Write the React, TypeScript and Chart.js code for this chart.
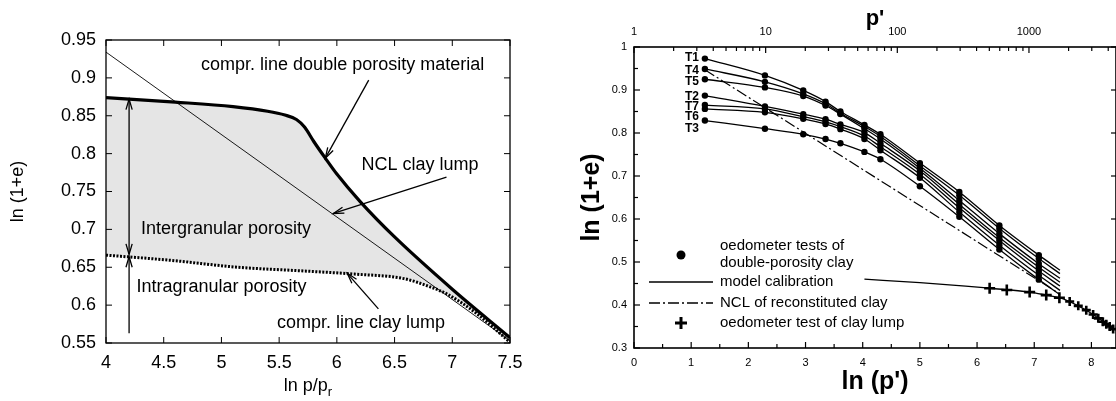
import React, { useEffect, useRef } from 'react';
import { Chart, registerables } from 'chart.js';

Chart.register(...registerables);

const SANS = '"Liberation Sans", Arial, Helvetica, sans-serif';

// ---------------- Left panel data ----------------
const leftXMin = 4;
const leftXMax = 7.5;
const leftYMin = 0.55;
const leftYMax = 0.95;

const nclLumpX = [4.0, 7.5];
const nclLumpY = [0.934, 0.553];

const doublePorX = [4.0, 4.6, 5.1, 5.4, 5.55, 5.65, 5.72, 5.8, 5.9, 6.0, 6.2, 6.5, 7.0, 7.5];
const doublePorY = [0.874, 0.868, 0.862, 0.856, 0.851, 0.845, 0.835, 0.816, 0.794, 0.773, 0.737, 0.69, 0.621, 0.557];

const lumpComprX = [4.0, 4.57, 5.14, 5.72, 6.15, 6.58, 6.81, 6.95, 7.21, 7.5];
const lumpComprY = [0.666, 0.659, 0.65, 0.645, 0.641, 0.635, 0.624, 0.615, 0.589, 0.551];

const leftTexts = [
  'compr. line double porosity material',
  'NCL clay lump',
  'Intergranular porosity',
  'Intragranular porosity',
  'compr. line clay lump',
];

// ---------------- Right panel data ----------------
const rightXMax = 8.43;
const lnP = [1.24, 2.29, 2.96, 3.35, 3.61, 4.03, 4.31, 5.0, 5.69, 6.39, 7.08];
const modelEndLnP = 7.45;

const testNames = ['T1', 'T4', 'T5', 'T2', 'T7', 'T6', 'T3'];
const T1 = [0.973, 0.934, 0.899, 0.873, 0.85, 0.819, 0.797, 0.73, 0.663, 0.585, 0.516];
const T4 = [0.949, 0.919, 0.891, 0.868, 0.846, 0.815, 0.792, 0.724, 0.655, 0.578, 0.508];
const T5 = [0.925, 0.906, 0.886, 0.864, 0.844, 0.81, 0.786, 0.718, 0.643, 0.566, 0.496];
const T2 = [0.887, 0.862, 0.844, 0.832, 0.82, 0.801, 0.776, 0.712, 0.634, 0.557, 0.488];
const T7 = [0.865, 0.856, 0.838, 0.826, 0.815, 0.793, 0.768, 0.704, 0.626, 0.55, 0.479];
const T6 = [0.856, 0.848, 0.833, 0.821, 0.809, 0.786, 0.76, 0.696, 0.616, 0.539, 0.469];
const T3 = [0.829, 0.81, 0.797, 0.786, 0.776, 0.756, 0.739, 0.676, 0.605, 0.529, 0.459];
const testSeries = [T1, T4, T5, T2, T7, T6, T3];
const modelEndValues = [0.481, 0.473, 0.462, 0.453, 0.444, 0.434, 0.424];
const testLabelY = [0.976, 0.945, 0.919, 0.884, 0.861, 0.837, 0.811];

const nclReconX = [1.24, 7.42];
const nclReconY = [0.947, 0.428];

const lumpModelX = [4.03, 5.0, 5.8, 6.22, 6.92, 7.21, 7.44, 7.77, 8.03, 8.38];
const lumpModelY = [0.46, 0.452, 0.444, 0.439, 0.43, 0.423, 0.417, 0.398, 0.378, 0.344];

const lumpTestX = [6.22, 6.52, 6.92, 7.21, 7.44, 7.62, 7.77, 7.91, 8.03, 8.12, 8.2, 8.26, 8.32, 8.38];
const lumpTestY = [0.439, 0.435, 0.43, 0.423, 0.417, 0.408, 0.398, 0.388, 0.378, 0.369, 0.361, 0.355, 0.35, 0.344];

const legendTexts = [
  ['oedometer tests of', 'double-porosity clay'],
  ['model calibration'],
  ['NCL of reconstituted clay'],
  ['oedometer test of clay lump'],
];
const topTickLabels = [1, 10, 100, 1000];

const zip = (xs: number[], ys: number[]) => xs.map((x, i) => ({ x, y: ys[i] }));

function seg(ctx: CanvasRenderingContext2D, x1: number, y1: number, x2: number, y2: number) {
  ctx.beginPath();
  ctx.moveTo(x1, y1);
  ctx.lineTo(x2, y2);
  ctx.stroke();
}

function arrowHead(ctx: CanvasRenderingContext2D, x1: number, y1: number, x2: number, y2: number, len = 11, ang = Math.PI / 11) {
  const a = Math.atan2(y2 - y1, x2 - x1);
  ctx.beginPath();
  ctx.moveTo(x2 - len * Math.cos(a - ang), y2 - len * Math.sin(a - ang));
  ctx.lineTo(x2, y2);
  ctx.lineTo(x2 - len * Math.cos(a + ang), y2 - len * Math.sin(a + ang));
  ctx.stroke();
}

const leftDecor = {
  id: 'leftDecor',
  afterDatasetsDraw(chart: any) {
    const { ctx, chartArea: ca, scales } = chart;
    const x = scales.x;
    const y = scales.y;
    const px = (v: number) => x.getPixelForValue(v);
    const py = (v: number) => y.getPixelForValue(v);
    ctx.save();
    ctx.strokeStyle = '#000';
    ctx.fillStyle = '#000';
    ctx.lineWidth = 1.3;
    ctx.strokeRect(ca.left, ca.top, ca.right - ca.left, ca.bottom - ca.top);
    ctx.lineWidth = 1;
    x.ticks.forEach((t: any) => {
      const p = px(t.value);
      seg(ctx, p, ca.bottom, p, ca.bottom - 6);
      seg(ctx, p, ca.top, p, ca.top + 6);
    });
    y.ticks.forEach((t: any) => {
      const p = py(t.value);
      seg(ctx, ca.left, p, ca.left + 6, p);
      seg(ctx, ca.right, p, ca.right - 6, p);
    });

    // arrows
    ctx.lineWidth = 1.3;
    const arrows = [
      [6.276, 0.897, 5.9, 0.794],
      [6.95, 0.769, 5.97, 0.721],
      [6.36, 0.595, 6.09, 0.642],
      [4.2, 0.563, 4.2, 0.664],
    ];
    arrows.forEach(([a, b, c, d]) => {
      seg(ctx, px(a), py(b), px(c), py(d));
      arrowHead(ctx, px(a), py(b), px(c), py(d));
    });
    const dx = px(4.2);
    seg(ctx, dx, py(0.667), dx, py(0.872));
    arrowHead(ctx, dx, py(0.872), dx, py(0.667));
    arrowHead(ctx, dx, py(0.667), dx, py(0.872));

    // texts
    ctx.font = `18px ${SANS}`;
    ctx.textAlign = 'center';
    ctx.textBaseline = 'middle';
    const pos = [
      [6.05, 0.917],
      [6.72, 0.785],
      [5.04, 0.7],
      [5.0, 0.624],
      [6.21, 0.576],
    ];
    leftTexts.forEach((t, i) => ctx.fillText(t, px(pos[i][0]), py(pos[i][1])));

    // x title with subscript
    const main = 'ln p/p';
    ctx.font = `18px ${SANS}`;
    const w1 = ctx.measureText(main).width;
    ctx.font = `13px ${SANS}`;
    const w2 = ctx.measureText('r').width;
    const cx = (ca.left + ca.right) / 2;
    const sx = cx - (w1 + w2) / 2;
    ctx.textAlign = 'left';
    ctx.textBaseline = 'alphabetic';
    ctx.font = `18px ${SANS}`;
    ctx.fillText(main, sx, 391);
    ctx.font = `13px ${SANS}`;
    ctx.fillText('r', sx + w1, 396);
    ctx.restore();
  },
};

const rightDecor = {
  id: 'rightDecor',
  afterDatasetsDraw(chart: any) {
    const { ctx, chartArea: ca, scales } = chart;
    const x = scales.x;
    const y = scales.y;
    const px = (v: number) => x.getPixelForValue(v);
    const py = (v: number) => y.getPixelForValue(v);
    ctx.save();
    ctx.strokeStyle = '#000';
    ctx.fillStyle = '#000';
    ctx.lineWidth = 1.6;
    ctx.strokeRect(ca.left, ca.top, ca.right - ca.left, ca.bottom - ca.top);
    ctx.lineWidth = 1.2;
    for (let v = 0; v <= rightXMax + 1e-9; v += 0.5) {
      const p = px(v);
      const major = Math.abs(v - Math.round(v)) < 1e-9;
      seg(ctx, p, ca.bottom, p, ca.bottom - (major ? 6 : 4));
    }
    for (let v = 0.3; v <= 1.0001; v += 0.05) {
      const p = py(v);
      const major = Math.abs(v * 10 - Math.round(v * 10)) < 1e-6;
      seg(ctx, ca.left, p, ca.left + (major ? 6 : 4), p);
      if (major) seg(ctx, ca.right, p, ca.right - 5, p);
    }
    for (let dec = 1; dec <= 1000; dec *= 10) {
      for (let m = 1; m <= 9; m++) {
        const v = Math.log(dec * m);
        if (v > rightXMax) continue;
        const p = px(v);
        seg(ctx, p, ca.top, p, ca.top + (m === 1 ? 6 : 4));
      }
    }
    // test labels
    ctx.font = `bold 12px ${SANS}`;
    ctx.textAlign = 'right';
    ctx.textBaseline = 'middle';
    testNames.forEach((n, i) => {
      ctx.fillText(n, px(lnP[0]) - 6, py(testLabelY[i]));
    });

    // legend (canvas coordinates)
    const lx0 = 89;
    const lx1 = 153;
    const mx = 121;
    const tx = 160;
    ctx.font = `15px ${SANS}`;
    ctx.textAlign = 'left';
    ctx.textBaseline = 'middle';
    ctx.beginPath();
    ctx.arc(mx, 255, 4.5, 0, Math.PI * 2);
    ctx.fill();
    ctx.fillText(legendTexts[0][0], tx, 246);
    ctx.fillText(legendTexts[0][1], tx, 263);
    ctx.lineWidth = 1.3;
    seg(ctx, lx0, 282, lx1, 282);
    ctx.fillText(legendTexts[1][0], tx, 282);
    ctx.setLineDash([11, 3, 2, 3]);
    seg(ctx, lx0, 303, lx1, 303);
    ctx.setLineDash([]);
    ctx.fillText(legendTexts[2][0], tx, 303);
    ctx.lineWidth = 3;
    seg(ctx, mx - 6, 323, mx + 6, 323);
    seg(ctx, mx, 317, mx, 329);
    ctx.fillText(legendTexts[3][0], tx, 323);
    ctx.restore();
  },
};

function LeftChart() {
  const ref = useRef<HTMLCanvasElement>(null);
  useEffect(() => {
    if (!ref.current) return;
    const chart = new Chart(ref.current, {
      type: 'line',
      data: {
        datasets: [
          {
            data: zip(nclLumpX, nclLumpY),
            borderColor: '#000',
            borderWidth: 0.9,
            pointRadius: 0,
            fill: false,
          },
          {
            data: zip(doublePorX, doublePorY),
            borderColor: '#000',
            borderWidth: 3.2,
            pointRadius: 0,
            cubicInterpolationMode: 'monotone',
            backgroundColor: '#e5e5e5',
            fill: { target: 2 },
          },
          {
            data: zip(lumpComprX, lumpComprY),
            borderColor: '#000',
            borderWidth: 3,
            borderDash: [2, 1.5],
            pointRadius: 0,
            cubicInterpolationMode: 'monotone',
            fill: false,
          },
        ],
      },
      options: {
        responsive: false,
        animation: false,
        devicePixelRatio: 1,
        layout: { autoPadding: false, padding: { left: 0, right: 50, top: 40, bottom: 0 } },
        plugins: {
          legend: { display: false },
          tooltip: { enabled: false },
          filler: { drawTime: 'beforeDatasetsDraw' },
        },
        scales: {
          x: {
            type: 'linear',
            min: leftXMin,
            max: leftXMax,
            grid: { display: false, drawTicks: false },
            border: { display: false },
            ticks: {
              stepSize: 0.5,
              includeBounds: false,
              color: '#000',
              font: { family: SANS, size: 18 },
              padding: 9,
              maxRotation: 0,
              callback: (v: any) => String(Number(Number(v).toFixed(2))),
            },
            afterFit: (s: any) => { s.height = 58; s.paddingLeft = 0; s.paddingRight = 0; },
          },
          y: {
            type: 'linear',
            min: leftYMin,
            max: leftYMax,
            grid: { display: false, drawTicks: false },
            border: { display: false },
            ticks: {
              stepSize: 0.05,
              includeBounds: false,
              color: '#000',
              font: { family: SANS, size: 18 },
              padding: 10,
              callback: (v: any) => String(Number(Number(v).toFixed(2))),
            },
            title: {
              display: true,
              text: 'ln (1+e)',
              color: '#000',
              font: { family: SANS, size: 18 },
              padding: { top: 7, bottom: 0 },
            },
            afterFit: (s: any) => { s.width = 106; },
          },
        },
      } as any,
      plugins: [leftDecor],
    });
    return () => chart.destroy();
  }, []);
  return <canvas ref={ref} width={560} height={401} style={{ position: 'absolute', left: 0, top: 0, width: 560, height: 401 }} />;
}

function RightChart() {
  const ref = useRef<HTMLCanvasElement>(null);
  useEffect(() => {
    if (!ref.current) return;
    const datasets: any[] = testSeries.map((vals, i) => ({
      label: testNames[i],
      data: [...zip(lnP, vals), { x: modelEndLnP, y: modelEndValues[i] }],
      borderColor: '#000',
      borderWidth: 1.3,
      backgroundColor: '#000',
      pointBackgroundColor: '#000',
      pointBorderWidth: 0,
      pointRadius: (c: any) => (c.dataIndex < lnP.length ? 3.2 : 0),
      cubicInterpolationMode: 'monotone',
      fill: false,
    }));
    datasets.push({
      label: 'NCL of reconstituted clay',
      data: zip(nclReconX, nclReconY),
      borderColor: '#000',
      borderWidth: 1.2,
      borderDash: [11, 3, 2, 3],
      pointRadius: 0,
      fill: false,
    });
    datasets.push({
      label: 'model clay lump',
      data: zip(lumpModelX, lumpModelY),
      borderColor: '#000',
      borderWidth: 1.3,
      pointRadius: 0,
      cubicInterpolationMode: 'monotone',
      fill: false,
    });
    datasets.push({
      label: 'oedometer test of clay lump',
      data: zip(lumpTestX, lumpTestY),
      showLine: false,
      pointStyle: 'cross',
      pointRadius: (c: any) => (c.dataIndex < 5 ? 5.5 : 4.5),
      pointBorderWidth: 2.6,
      pointBorderColor: '#000',
      borderColor: '#000',
      fill: false,
    });
    const chart = new Chart(ref.current, {
      type: 'line',
      data: { datasets },
      options: {
        responsive: false,
        animation: false,
        devicePixelRatio: 1,
        layout: { autoPadding: false, padding: 0 },
        plugins: { legend: { display: false }, tooltip: { enabled: false } },
        scales: {
          x: {
            type: 'linear',
            position: 'bottom',
            min: 0,
            max: rightXMax,
            grid: { display: false, drawTicks: false },
            border: { display: false },
            ticks: {
              stepSize: 1,
              includeBounds: false,
              color: '#000',
              font: { family: SANS, size: 11 },
              padding: 8,
              maxRotation: 0,
              autoSkip: false,
            },
            title: {
              display: true,
              text: "ln (p')",
              color: '#000',
              font: { family: SANS, size: 25, weight: 'bold' },
              padding: { top: 0, bottom: 4 },
            },
            afterFit: (s: any) => { s.height = 53; s.paddingLeft = 0; s.paddingRight = 0; },
          },
          xTop: {
            type: 'logarithmic',
            position: 'top',
            min: 1,
            max: Math.exp(rightXMax),
            grid: { display: false, drawTicks: false },
            border: { display: false },
            ticks: {
              color: '#000',
              font: { family: SANS, size: 11 },
              padding: 8,
              maxRotation: 0,
              autoSkip: false,
              callback: (v: any) => (topTickLabels.includes(Math.round(Number(v))) && Math.abs(Number(v) - Math.round(Number(v))) < 1e-6 ? String(Math.round(Number(v))) : ''),
            },
            title: {
              display: true,
              text: "p'",
              color: '#000',
              font: { family: SANS, size: 22, weight: 'bold' },
              padding: { top: 6, bottom: 0 },
            },
            afterFit: (s: any) => { s.height = 47; s.paddingLeft = 0; s.paddingRight = 0; },
          },
          y: {
            type: 'linear',
            min: 0.3,
            max: 1.0,
            grid: { display: false, drawTicks: false },
            border: { display: false },
            ticks: {
              stepSize: 0.1,
              includeBounds: false,
              color: '#000',
              font: { family: SANS, size: 11 },
              padding: 7,
              callback: (v: any) => (Math.abs(Number(v) - 1) < 1e-9 ? '1' : Number(v).toFixed(1)),
            },
            title: {
              display: true,
              text: 'ln (1+e)',
              color: '#000',
              font: { family: SANS, size: 25, weight: 'bold' },
              padding: { top: 17, bottom: 0 },
            },
            afterFit: (s: any) => { s.width = 74; },
          },
        },
      } as any,
      plugins: [rightDecor],
    });
    return () => chart.destroy();
  }, []);
  return <canvas ref={ref} width={556} height={401} style={{ position: 'absolute', left: 560, top: 0, width: 556, height: 401 }} />;
}

export default function App() {
  return (
    <div style={{ position: 'fixed', left: 0, top: 0, width: 1116, height: 401, background: '#fff', overflow: 'hidden' }}>
      <LeftChart />
      <RightChart />
    </div>
  );
}
